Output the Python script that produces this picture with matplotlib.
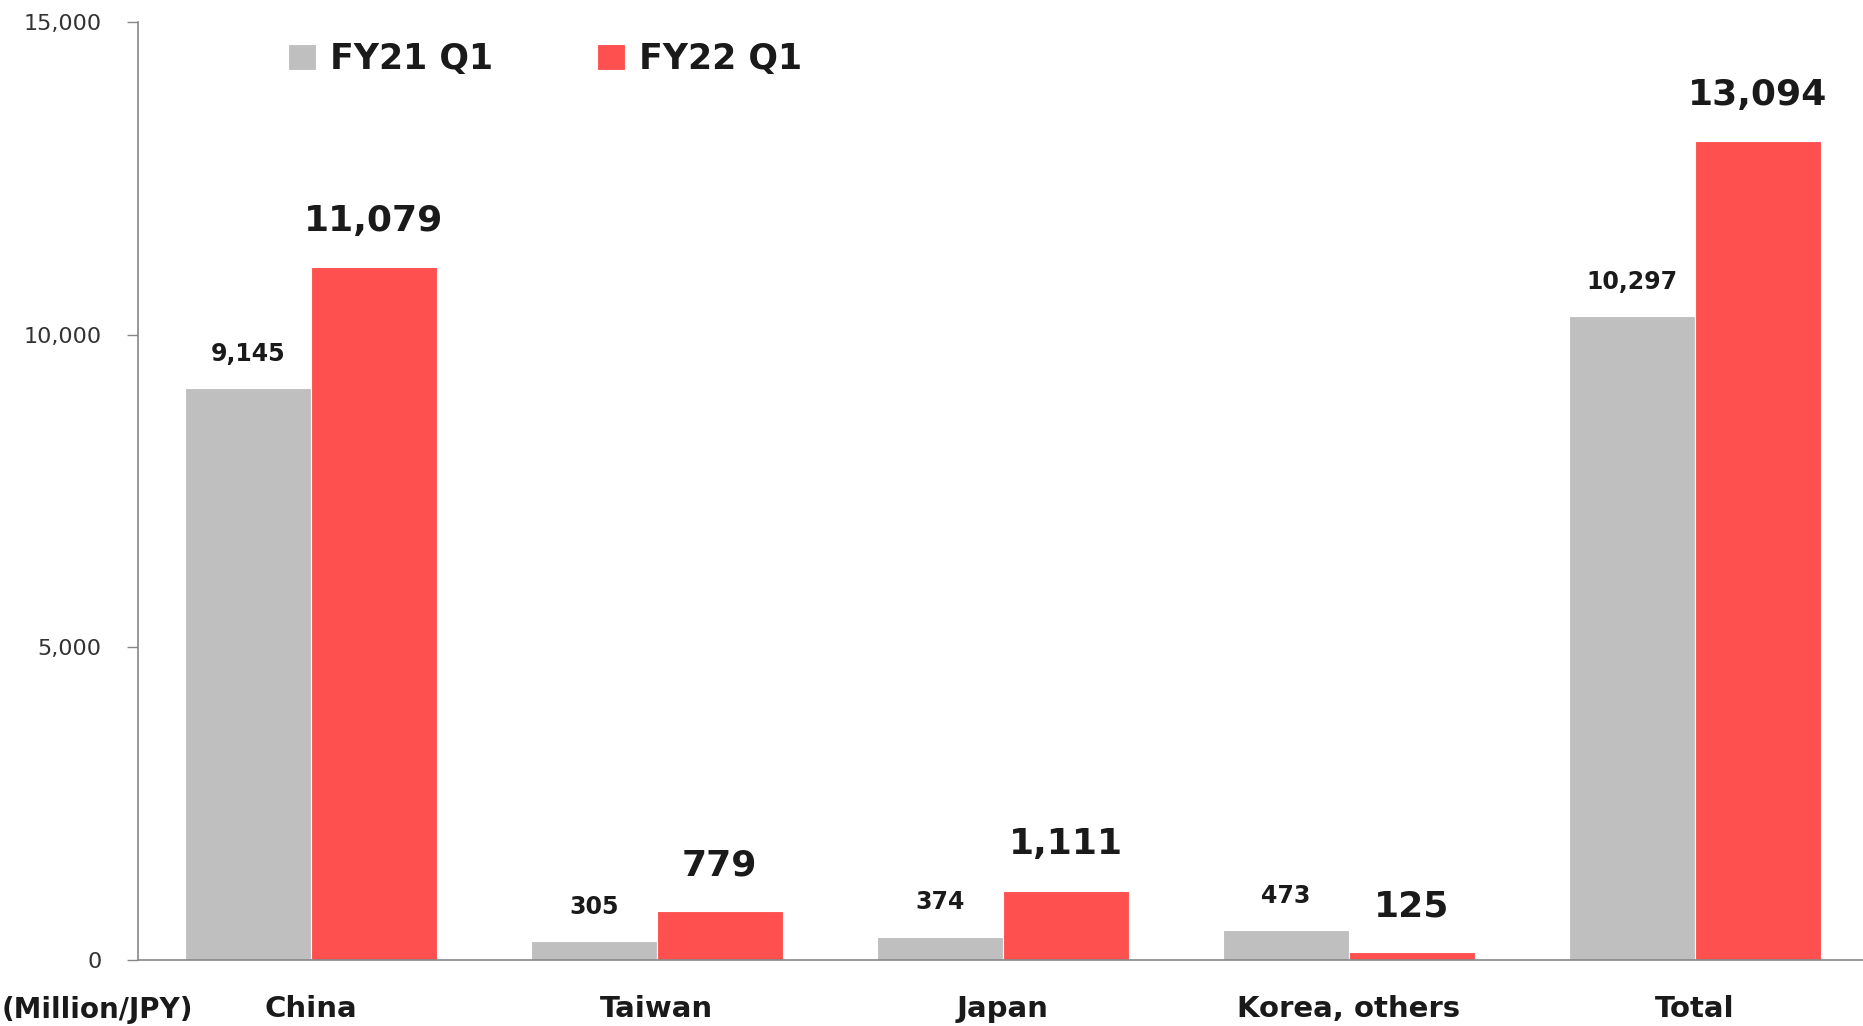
import matplotlib.pyplot as plt
import numpy as np

regions = ['China', 'Taiwan', 'Japan', 'Korea, others', 'Total']
fy21_q1 = [9145, 305, 374, 473, 10297]
fy22_q1 = [11079, 779, 1111, 125, 13094]
series_names = ['FY21 Q1', 'FY22 Q1']
yticks = [0, 5000, 10000, 15000]

GRAY = '#BFBFBF'
RED = '#FF5050'
TXT = '#1a1a1a'

fig = plt.figure(figsize=(18.63, 10.26), dpi=100)
ax = fig.add_axes([0.074, 0.0643, 0.926, 0.9143])

x = np.arange(len(regions))
w = 0.364
ax.bar(x - w / 2, fy21_q1, width=w, color=GRAY, edgecolor='white', linewidth=0.8, label=series_names[0])
ax.bar(x + w / 2, fy22_q1, width=w, color=RED, edgecolor='white', linewidth=0.8, label=series_names[1])

for xi, v in zip(x, fy21_q1):
    ax.annotate(f'{v:,}', (xi - w / 2, v), xytext=(0, 16), textcoords='offset points',
                ha='center', va='bottom', fontsize=17, fontweight='bold', color=TXT)
for xi, v in zip(x, fy22_q1):
    ax.annotate(f'{v:,}', (xi + w / 2, v), xytext=(0, 21), textcoords='offset points',
                ha='center', va='bottom', fontsize=26, fontweight='bold', color=TXT)

ax.set_xlim(-0.5, 4.486)
ax.set_ylim(0, 15000)
ax.set_yticks(yticks)
ax.set_yticklabels([f'{t:,}' for t in yticks], fontsize=16, color='#333333')
ax.tick_params(axis='y', length=8, width=1, color='#888888', pad=18)
ax.set_xticks(x)
ax.set_xticklabels(regions, fontsize=21, fontweight='bold', color=TXT)
ax.tick_params(axis='x', length=0, pad=25)

for s in ['top', 'right']:
    ax.spines[s].set_visible(False)
for s in ['left', 'bottom']:
    ax.spines[s].set_color('#888888')
    ax.spines[s].set_linewidth(1.2)

fig.text(2 / 1863, 1 - 1010 / 1026, '(Million/JPY)', ha='left', va='center',
         fontsize=20, fontweight='bold', color=TXT)

leg = ax.legend(loc='upper left', bbox_to_anchor=(0.069, 1.012), ncol=2, frameon=False,
                fontsize=25, handlelength=0.8, handleheight=0.8, handletextpad=0.4,
                columnspacing=3.0)
for t in leg.get_texts():
    t.set_fontweight('bold')
    t.set_color(TXT)

fig.savefig('out.png', dpi=100)
